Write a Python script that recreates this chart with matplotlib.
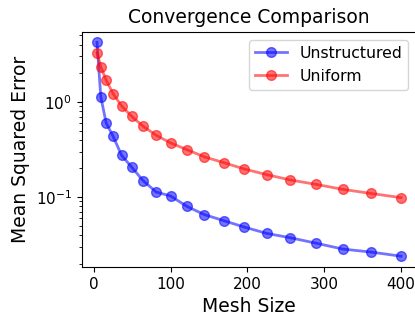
import matplotlib
matplotlib.use("Agg")
import matplotlib.pyplot as plt

# --- DATA ---
mesh_sizes = [4, 9, 16, 25, 36, 49, 64, 81, 100, 121, 144, 169, 196, 225, 256, 289, 324, 361, 400]
err_unstructured = [4.22, 1.13, 0.60, 0.435, 0.275, 0.207, 0.149, 0.113, 0.1025, 0.0798,
                    0.0653, 0.0565, 0.0483, 0.0415, 0.0373, 0.0328, 0.0284, 0.0264, 0.0239]
err_uniform = [3.28, 2.34, 1.69, 1.22, 0.908, 0.707, 0.555, 0.446, 0.370, 0.315,
               0.264, 0.230, 0.197, 0.172, 0.151, 0.136, 0.1205, 0.109, 0.0986]

fig = plt.figure(figsize=(4.15, 3.2), dpi=100)
ax = fig.add_axes([0.197, 0.166, 0.806, 0.735])

ax.plot(mesh_sizes, err_unstructured, 'o-', color='blue', alpha=0.55,
        markersize=7, linewidth=2, label='Unstructured')
ax.plot(mesh_sizes, err_uniform, 'o-', color='red', alpha=0.55,
        markersize=7, linewidth=2, label='Uniform')

ax.set_yscale('log')
ax.set_title('Convergence Comparison', fontsize=13.5)
ax.set_xlabel('Mesh Size', fontsize=13.5)
ax.set_ylabel('Mean Squared Error', fontsize=13.5)
ax.tick_params(labelsize=11)
ax.legend(loc='upper right', fontsize=11.3)

plt.savefig("out.png", dpi=100)
